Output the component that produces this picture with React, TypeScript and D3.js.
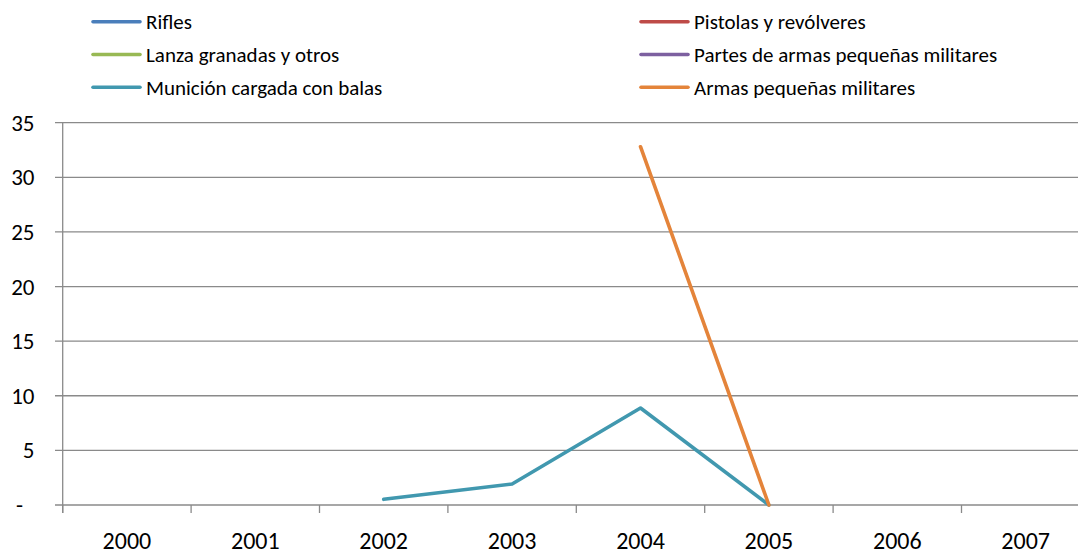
import React from 'react';
import { scaleBand, scaleLinear, line } from 'd3';

const years = ['2000', '2001', '2002', '2003', '2004', '2005', '2006', '2007'];

const seriesNames = [
  'Rifles',
  'Pistolas y revólveres',
  'Lanza granadas y otros',
  'Partes de armas pequeñas militares',
  'Munición cargada con balas',
  'Armas pequeñas militares',
];

const seriesColors = ['#4A7EBB', '#BE4B48', '#98B954', '#7D60A0', '#4198AF', '#E4843A'];

const rifles: (number | null)[] = [null, null, null, null, null, null, null, null];
const pistolas: (number | null)[] = [null, null, null, null, null, null, null, null];
const lanzaGranadas: (number | null)[] = [null, null, null, null, null, null, null, null];
const partesArmas: (number | null)[] = [null, null, null, null, null, null, null, null];
const municion: (number | null)[] = [null, null, 0.52, 1.92, 8.88, 0, null, null];
const armasPequenas: (number | null)[] = [null, null, null, null, 32.8, 0, null, null];

const seriesValues = [rifles, pistolas, lanzaGranadas, partesArmas, municion, armasPequenas];

const yTicks = [0, 5, 10, 15, 20, 25, 30, 35];

const W = 1078;
const H = 555;
const FONT = 'Carlito, Calibri, Lato, sans-serif';

export default function App() {
  const left = 62.7;
  const right = left + 8 * 128.4;
  const x = scaleBand<string>().domain(years).range([left, right]);
  const y = scaleLinear().domain([0, 35]).range([505, 122.7]);

  const lineGen = line<number | null>()
    .defined(d => d !== null)
    .x((_, i) => (x(years[i]) as number) + x.bandwidth() / 2)
    .y(d => y(d as number));

  return (
    <div style={{ position: 'absolute', left: 0, top: 0 }}>
      <svg width={W} height={H} style={{ display: 'block', background: '#fff' }} fontFamily={FONT}>
        {/* gridlines */}
        {yTicks.map(t => (
          <line key={'g' + t} x1={55} x2={W} y1={y(t)} y2={y(t)} stroke="#8a8a8a" strokeWidth={1.3} />
        ))}
        {/* y axis */}
        <line x1={left} x2={left} y1={y(35)} y2={y(0) + 8} stroke="#8a8a8a" strokeWidth={1.3} />
        {/* x ticks */}
        {years.map(yr => (
          <line key={'t' + yr} x1={x(yr)} x2={x(yr)} y1={y(0)} y2={y(0) + 8} stroke="#8a8a8a" strokeWidth={1.3} />
        ))}
        {yTicks.map(t => (
          <text key={'yl' + t} x={t === 0 ? 23 : 34.5} y={y(t)} dy="0.35em" textAnchor="end" fontSize={23} fill="#000">
            {t === 0 ? '-' : t}
          </text>
        ))}
        {years.map(yr => (
          <text key={'xl' + yr} x={(x(yr) as number) + x.bandwidth() / 2} y={541} dy="0.35em" textAnchor="middle" fontSize={24} fill="#000">
            {yr}
          </text>
        ))}
        {/* series */}
        {seriesValues.map((vals, i) => (
          <path key={'s' + i} d={lineGen(vals) || ''} fill="none" stroke={seriesColors[i]} strokeWidth={3.6} strokeLinejoin="round" strokeLinecap="round" />
        ))}
        {/* legend */}
        {seriesNames.map((name, i) => {
          const col = i % 2;
          const row = Math.floor(i / 2);
          const ly = 21.7 + row * 32.8;
          const sx = col === 0 ? 93 : 641;
          return (
            <g key={'lg' + i}>
              <line x1={sx} x2={sx + 47} y1={ly} y2={ly} stroke={seriesColors[i]} strokeWidth={3.6} strokeLinecap="round" />
              <text x={sx + 53} y={ly} dy="0.35em" fontSize={21} fill="#000">{name}</text>
            </g>
          );
        })}
      </svg>
    </div>
  );
}
